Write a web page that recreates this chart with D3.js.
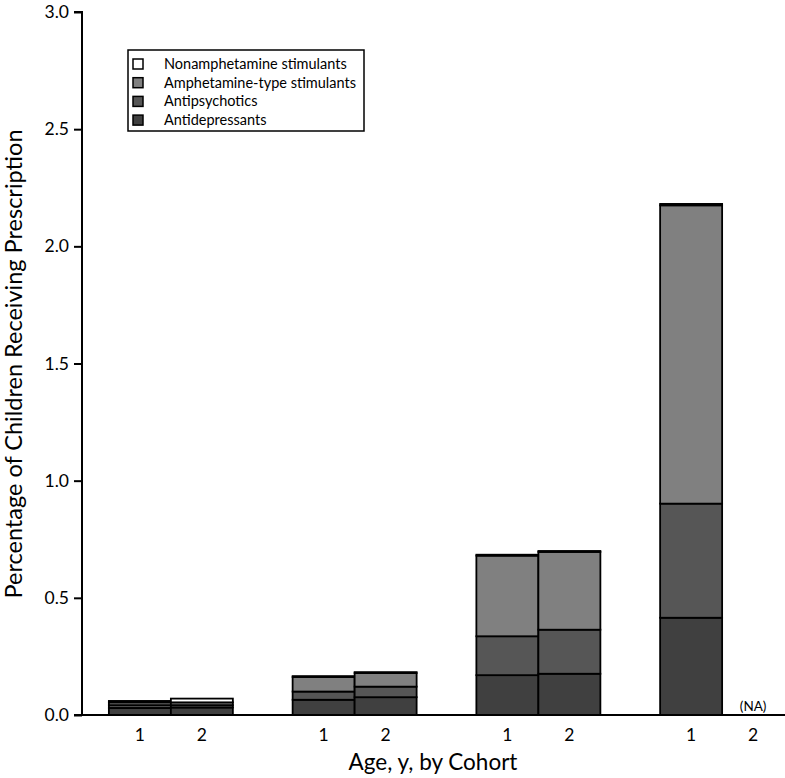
<!DOCTYPE html>
<html>
<head>
<meta charset="utf-8">
<script src="https://cdn.jsdelivr.net/npm/d3@7"></script>
<style>
  body { margin: 0; background: #fff; }
  text { font-family: Lato, "Open Sans", sans-serif; fill: #000; }
</style>
</head>
<body>
<svg id="chart" width="785" height="778"></svg>
<script>
const groups = ["A", "B", "C", "D"];
const cohorts = ["1", "2"];
const seriesNames = ["Antidepressants", "Antipsychotics", "Amphetamine-type stimulants", "Nonamphetamine stimulants"];
const seriesColors = ["#404040", "#565656", "#808080", "#ffffff"];
// values per group x cohort (null = not available)
const antidepressants = [[0.030, 0.032], [0.065, 0.076], [0.170, 0.176], [0.415, null]];
const antipsychotics  = [[0.012, 0.010], [0.035, 0.045], [0.166, 0.188], [0.487, null]];
const amphetamine     = [[0.012, 0.012], [0.062, 0.058], [0.344, 0.332], [1.273, null]];
const nonamphetamine  = [[0.006, 0.016], [0.004, 0.004], [0.004, 0.004], [0.006, null]];
const yTicks = [0, 0.5, 1.0, 1.5, 2.0, 2.5, 3.0];
const seriesData = [antidepressants, antipsychotics, amphetamine, nonamphetamine];

const svg = d3.select("#chart");
const y = d3.scaleLinear().domain([0, 3]).range([715, 12]);
const xGroup = d3.scaleBand().domain(groups).range([79, 814]);
const xCohort = d3.scaleBand().domain(cohorts).range([-62, 62]);

// bars
groups.forEach((g, gi) => {
  cohorts.forEach((c, ci) => {
    if (antidepressants[gi][ci] == null) return;
    let base = 0;
    const x0 = xGroup(g) + xGroup.bandwidth() / 2 + xCohort(c);
    seriesData.forEach((s, si) => {
      const v = s[gi][ci];
      svg.append("rect")
        .attr("x", x0)
        .attr("width", xCohort.bandwidth())
        .attr("y", y(base + v))
        .attr("height", y(base) - y(base + v))
        .attr("fill", seriesColors[si])
        .attr("stroke", "#000")
        .attr("stroke-width", 1.8);
      base += v;
    });
  });
});

// NA labels
groups.forEach((g, gi) => {
  cohorts.forEach((c, ci) => {
    if (antidepressants[gi][ci] != null) return;
    svg.append("text")
      .attr("x", xGroup(g) + xGroup.bandwidth() / 2 + xCohort(c) + xCohort.bandwidth() / 2)
      .attr("y", y(0) - 4)
      .attr("text-anchor", "middle")
      .attr("font-size", 13.5)
      .text("(NA)");
  });
});

// y axis
const yAxis = d3.axisLeft(y).tickValues(yTicks).tickFormat(d3.format(".1f")).tickSize(8).tickPadding(5);
const gy = svg.append("g").attr("transform", "translate(82,0)").call(yAxis);
gy.select(".domain").attr("stroke-width", 2).attr("d", "M-8,715H0V12H-8");
gy.selectAll(".tick line").attr("stroke-width", 2);
gy.selectAll(".tick text").attr("font-size", 17.5).attr("font-family", "Lato, sans-serif");

// x axis line
svg.append("line").attr("x1", 82).attr("x2", 785).attr("y1", y(0)).attr("y2", y(0))
  .attr("stroke", "#000").attr("stroke-width", 2);

// x tick labels
groups.forEach(g => {
  cohorts.forEach(c => {
    svg.append("text")
      .attr("x", xGroup(g) + xGroup.bandwidth() / 2 + xCohort(c) + xCohort.bandwidth() / 2)
      .attr("y", 741)
      .attr("text-anchor", "middle")
      .attr("font-size", 17.5)
      .text(c);
  });
});

// axis titles
svg.append("text").attr("x", 433).attr("y", 770).attr("text-anchor", "middle")
  .attr("font-size", 22.5).text("Age, y, by Cohort");
svg.append("text").attr("transform", "translate(22,364) rotate(-90)")
  .attr("text-anchor", "middle").attr("font-size", 23.5)
  .text("Percentage of Children Receiving Prescription");

// legend
const lg = svg.append("g");
lg.append("rect").attr("x", 128).attr("y", 50).attr("width", 236).attr("height", 81)
  .attr("fill", "#fff").attr("stroke", "#000").attr("stroke-width", 1.5);
const legendOrder = [3, 2, 1, 0];
legendOrder.forEach((si, i) => {
  const ly = 64 + i * 18.7;
  lg.append("rect").attr("x", 133).attr("y", ly - 5).attr("width", 10).attr("height", 10)
    .attr("fill", seriesColors[si]).attr("stroke", "#000").attr("stroke-width", 1.5);
  lg.append("text").attr("x", 164).attr("y", ly + 5).attr("font-size", 14.5).text(seriesNames[si]);
});
</script>
</body>
</html>
